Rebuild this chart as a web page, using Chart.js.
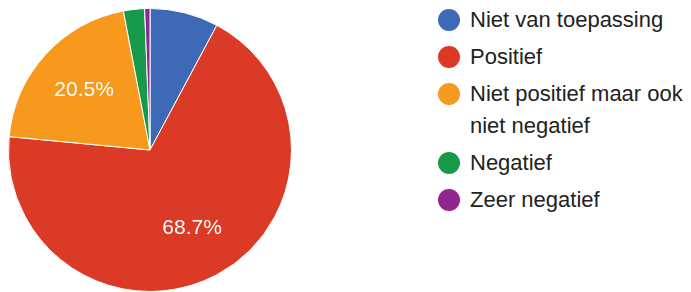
<!DOCTYPE html>
<html lang="nl">
<head>
    <meta charset="UTF-8">
    <title>Pie</title>
    <script src="https://cdn.jsdelivr.net/npm/chart.js"></script>
    <style>
        body {
            margin: 0;
            width: 691px;
            height: 292px;
            overflow: hidden;
            background: #fff;
            font-family: 'Liberation Sans', Arial, sans-serif;
            position: relative;
        }
        .pie-box {
            position: absolute;
            left: 0;
            top: 0;
            width: 300px;
            height: 300px;
        }
        .legend {
            position: absolute;
            left: 438px;
            top: 4px;
            margin: 0;
            padding: 0;
            list-style: none;
            font-size: 22px;
            color: #222;
        }
        .legend li {
            position: relative;
            padding-left: 32px;
            line-height: 32px;
            margin-bottom: 5px;
            width: 225px;
        }
        .legend li span.dot {
            position: absolute;
            left: 0;
            top: 5px;
            width: 22px;
            height: 22px;
            border-radius: 50%;
        }
    </style>
</head>
<body>
    <div class="pie-box"><canvas id="pieChart"></canvas></div>
    <ul class="legend" id="legend"></ul>

    <script>
const categories = ['Niet van toepassing', 'Positief', 'Niet positief maar ook niet negatief', 'Negatief', 'Zeer negatief'];
const counts = [13, 114, 34, 4, 1];
const colors = ['#3e69b6', '#db3a26', '#f7991c', '#169a4a', '#8f278f'];

const total = counts.reduce((a, b) => a + b, 0);

// percentage text inside the big slices
const sliceLabels = {
    id: 'sliceLabels',
    afterDatasetsDraw(chart) {
        const ctx = chart.ctx;
        const meta = chart.getDatasetMeta(0);
        ctx.save();
        ctx.fillStyle = '#fff';
        ctx.font = '21px "Liberation Sans", Arial, sans-serif';
        ctx.textAlign = 'center';
        ctx.textBaseline = 'middle';
        meta.data.forEach((arc, i) => {
            const pct = counts[i] / total * 100;
            if (pct < 10) return;
            const mid = (arc.startAngle + arc.endAngle) / 2;
            const r = arc.outerRadius * 0.63;
            ctx.fillText(pct.toFixed(1) + '%', arc.x + Math.cos(mid) * r, arc.y + Math.sin(mid) * r);
        });
        ctx.restore();
    }
};

new Chart(document.getElementById('pieChart'), {
    type: 'pie',
    data: {
        labels: categories,
        datasets: [{
            data: counts,
            backgroundColor: colors,
            borderColor: '#fff',
            borderWidth: 1
        }]
    },
    options: {
        responsive: true,
        maintainAspectRatio: false,
        animation: false,
        layout: { padding: 8 },
        plugins: {
            legend: { display: false },
            tooltip: { enabled: false }
        }
    },
    plugins: [sliceLabels]
});

// legend, built by hand so the long label can wrap
const legend = document.getElementById('legend');
categories.forEach((name, i) => {
    const li = document.createElement('li');
    const dot = document.createElement('span');
    dot.className = 'dot';
    dot.style.background = colors[i];
    li.appendChild(dot);
    li.appendChild(document.createTextNode(name));
    legend.appendChild(li);
});
    </script>
</body>
</html>
